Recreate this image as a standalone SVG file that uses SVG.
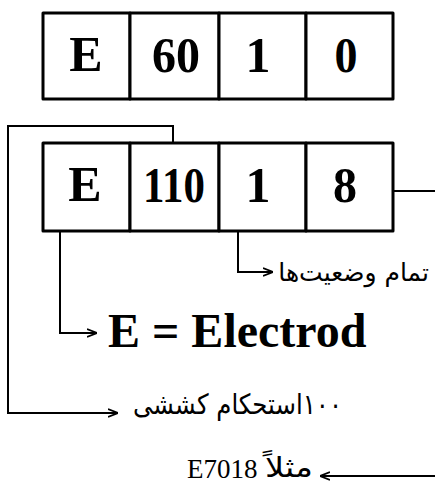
<svg xmlns="http://www.w3.org/2000/svg" width="435" height="485" viewBox="0 0 435 485">
<defs>
<style>
.box{fill:#fff;stroke:#000;stroke-width:3;stroke-linejoin:round}
.big{font-family:"Liberation Serif","Times New Roman",serif;font-weight:bold;font-size:50px;text-anchor:middle;fill:#000}
.conn{fill:none;stroke:#000;stroke-width:2}
.fa{font-family:"DejaVu Sans",sans-serif;font-size:28px;fill:#000;text-anchor:end}
</style>
<marker id="arr" viewBox="0 0 10 10" refX="10" refY="5" markerWidth="10" markerHeight="10" markerUnits="userSpaceOnUse" orient="auto">
<path d="M0,1 L10,5 L0,9" fill="none" stroke="#000" stroke-width="1.8"/>
</marker>
</defs>
<rect width="435" height="485" fill="#fff"/>
<g id="row1">
<g id="r1-E"><rect class="box" x="43" y="13" width="87" height="86"/><text class="big" x="86" y="71">E</text></g>
<g id="r1-60"><rect class="box" x="130" y="13" width="89" height="86"/><text class="big" x="176" y="72" textLength="48" lengthAdjust="spacingAndGlyphs">60</text></g>
<g id="r1-1"><rect class="box" x="219" y="13" width="87" height="86"/><text class="big" x="258" y="72">1</text></g>
<g id="r1-0"><rect class="box" x="306" y="13" width="87" height="86"/><text class="big" x="346" y="72" textLength="23" lengthAdjust="spacingAndGlyphs">0</text></g>
</g>
<g id="connectors">
<polyline class="conn" points="173,143 173,126 8,126 8,413 118,413" marker-end="url(#arr)"/>
<polyline class="conn" points="60,231 60,333 97,333" marker-end="url(#arr)"/>
<polyline class="conn" points="238,231 238,272 273,272" marker-end="url(#arr)"/>
<line class="conn" x1="393" y1="191" x2="435" y2="191"/>
<line class="conn" x1="435" y1="476" x2="320" y2="476" marker-end="url(#arr)"/>
</g>
<g id="row2">
<g id="r2-E"><rect class="box" x="43" y="143" width="87" height="88"/><text class="big" x="85" y="201">E</text></g>
<g id="r2-110"><rect class="box" x="130" y="143" width="89" height="88"/><text class="big" x="174" y="202" textLength="62" lengthAdjust="spacingAndGlyphs">110</text></g>
<g id="r2-1"><rect class="box" x="219" y="143" width="87" height="88"/><text class="big" x="258" y="202">1</text></g>
<g id="r2-8"><rect class="box" x="306" y="143" width="87" height="88"/><text class="big" x="345" y="202" textLength="24" lengthAdjust="spacingAndGlyphs">8</text></g>
</g>
<g id="labels">
<text class="fa" x="429" y="281" style="font-size:25px">تمام وضعیت‌ها</text>
<text x="108" y="347" font-family="Liberation Serif, Times New Roman, serif" font-weight="bold" font-size="48">E = Electrod</text>
<text class="fa" x="342" y="414" textLength="209" lengthAdjust="spacingAndGlyphs">&#x200F;۱۰۰استحکام کششی</text>
<text x="187" y="478" font-family="Liberation Serif, Times New Roman, serif" font-size="27">E7018</text>
<text class="fa" x="313" y="477" textLength="48" lengthAdjust="spacingAndGlyphs">مثلاً</text>
</g>
</svg>
